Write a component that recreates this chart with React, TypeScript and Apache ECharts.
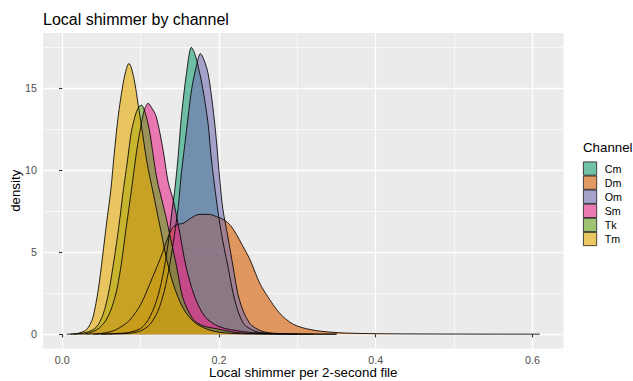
import React, { useEffect, useRef } from "react";
import * as echarts from "echarts";

// ---- data ----
const CHANNELS = ["Cm", "Dm", "Om", "Sm", "Tk", "Tm"];

const CM: [number, number][] = [
  [0.04, 0], [0.06, 0.02], [0.075, 0.06], [0.085, 0.1], [0.1, 0.35], [0.11, 0.9], [0.12, 2.0],
  [0.128, 3.5], [0.135, 5.5], [0.14, 7.5], [0.1436, 8.8], [0.1478, 10.8], [0.152, 13.25],
  [0.1585, 15.9], [0.1648, 17.48], [0.169, 17.1], [0.174, 16.2], [0.1796, 14.9], [0.186, 12.85],
  [0.19, 10.8], [0.1967, 8.18], [0.203, 6.15], [0.2115, 4.1], [0.22, 2.09], [0.231, 0.67],
  [0.245, 0.2], [0.26, 0.05], [0.3, 0],
];
const DM: [number, number][] = [
  [0.03, 0], [0.05, 0.05], [0.065, 0.2], [0.075, 0.45], [0.086, 0.85], [0.1, 1.8], [0.112, 3.1],
  [0.125, 4.6], [0.135, 5.9], [0.141, 6.5], [0.148, 6.7], [0.154, 6.75], [0.165, 7.1], [0.175, 7.3],
  [0.187, 7.3], [0.197, 7.16], [0.207, 6.95], [0.215, 6.6], [0.222, 6.1], [0.23, 5.4], [0.239, 4.6],
  [0.252, 3.1], [0.262, 2.3], [0.272, 1.6], [0.282, 1.05], [0.295, 0.6], [0.31, 0.35], [0.33, 0.18],
  [0.36, 0.07], [0.4, 0.03], [0.45, 0.015], [0.5, 0.008], [0.55, 0.004], [0.6094, 0],
];
const OM: [number, number][] = [
  [0.05, 0], [0.07, 0.02], [0.085, 0.05], [0.1, 0.2], [0.112, 0.6], [0.122, 1.4], [0.13, 2.6],
  [0.137, 4.2], [0.143, 6.0], [0.148, 7.77], [0.152, 9.8], [0.158, 12.2], [0.165, 14.9],
  [0.171, 16.3], [0.1763, 17.1], [0.181, 16.7], [0.186, 15.9], [0.192, 13.9], [0.1967, 11.8],
  [0.201, 9.4], [0.205, 7.6], [0.2115, 5.9], [0.218, 4.1], [0.226, 2.09], [0.239, 0.67],
  [0.256, 0.16], [0.28, 0.03], [0.32, 0],
];
const SM: [number, number][] = [
  [0.015, 0], [0.03, 0.03], [0.045, 0.3], [0.055, 0.8], [0.063, 1.6], [0.07, 2.8], [0.076, 4.5],
  [0.081, 6.3], [0.086, 8.0], [0.09, 9.4], [0.095, 11.2], [0.1, 12.6], [0.105, 13.7], [0.1096, 14.07],
  [0.114, 13.8], [0.12, 13.25], [0.1287, 11.2], [0.135, 9.3], [0.142, 8.1], [0.15, 6.15], [0.158, 4.1],
  [0.169, 2.29], [0.182, 1.07], [0.2, 0.46], [0.23, 0.16], [0.26, 0.05], [0.3, 0.01], [0.35, 0],
];
const TK: [number, number][] = [
  [0.01, 0], [0.015, 0.02], [0.03, 0.1], [0.043, 0.4], [0.052, 1.2], [0.059, 2.5], [0.066, 4.5],
  [0.072, 6.5], [0.078, 8.8], [0.083, 10.5], [0.088, 12.3], [0.093, 13.3], [0.097, 13.8], [0.101, 13.96],
  [0.107, 13.3], [0.112, 12.2], [0.116, 10.9], [0.121, 9.4], [0.127, 8.2], [0.133, 7.0], [0.137, 6.1],
  [0.146, 4.1], [0.154, 2.2], [0.167, 0.9], [0.18, 0.5], [0.197, 0.33], [0.222, 0.1], [0.25, 0.03],
  [0.3, 0.005], [0.35, 0],
];
const TM: [number, number][] = [
  [0.0056, 0], [0.012, 0.005], [0.018, 0.03], [0.025, 0.12], [0.031, 0.28], [0.0355, 0.6],
  [0.0395, 1.07], [0.0459, 2.7], [0.0514, 4.73], [0.0565, 6.76], [0.062, 8.8], [0.0659, 10.8],
  [0.0713, 13.25], [0.0777, 15.3], [0.082, 16.2], [0.085, 16.5], [0.088, 16.25], [0.0926, 15.3],
  [0.0968, 14.0], [0.101, 12.7], [0.108, 10.5], [0.116, 8.6], [0.125, 6.5], [0.133, 4.6], [0.142, 3.0],
  [0.154, 1.6], [0.168, 0.75], [0.185, 0.3], [0.2, 0.12], [0.22, 0.04], [0.25, 0.01], [0.28, 0],
];
const SERIES = [CM, DM, OM, SM, TK, TM];

const X_TICKS = [0, 0.2, 0.4, 0.6];
const X_MINOR = [0.1, 0.3, 0.5];
const Y_TICKS = [0, 5, 10, 15];
const Y_MINOR = [2.5, 7.5, 12.5, 17.5];

const TITLE = "Local shimmer by channel";
const X_TITLE = "Local shimmer per 2-second file";
const Y_TITLE = "density";
const LEGEND_TITLE = "Channel";

// ---- styling ----
const FILLS = ["#1B9E77", "#D95F02", "#7570B3", "#E7298A", "#66A61E", "#E6AB02"];
const ALPHA = 0.6;
const FONT = "'Liberation Sans', Arial, Helvetica, sans-serif";

function blend(hex: string, a: number, bg: number) {
  const n = parseInt(hex.slice(1), 16);
  const r = (n >> 16) & 255, g = (n >> 8) & 255, b = n & 255;
  const m = (c: number) => Math.round(c * a + bg * (1 - a));
  return `rgb(${m(r)},${m(g)},${m(b)})`;
}

export default function App() {
  const ref = useRef<HTMLDivElement>(null);
  useEffect(() => {
    if (!ref.current) return;
    const chart = echarts.init(ref.current, undefined, { renderer: "svg" });

    const allX = SERIES.flat().map((p) => p[0]);
    const allY = SERIES.flat().map((p) => p[1]);
    const x0 = Math.min(...allX), x1 = Math.max(...allX);
    const y0 = Math.min(0, ...allY), y1 = Math.max(...allY);
    const xmin = x0 - (x1 - x0) * 0.05, xmax = x1 + (x1 - x0) * 0.05;
    const ymin = y0 - (y1 - y0) * 0.05, ymax = y1 + (y1 - y0) * 0.05;

    const majorAxisX = {
      type: "value", min: xmin, max: xmax, position: "bottom",
      axisLine: { show: false },
      axisTick: { show: true, length: 3.3, customValues: X_TICKS, lineStyle: { color: "#333333", width: 1.1 } },
      axisLabel: {
        customValues: X_TICKS, formatter: (v: number) => v.toFixed(1), color: "#4D4D4D",
        fontSize: 10.7, fontFamily: FONT, margin: 6,
      },
      splitLine: { show: true, lineStyle: { color: "#FFFFFF", width: 1.3 } },
      name: X_TITLE, nameLocation: "middle", nameGap: 17, nameMoveOverlap: false,
      nameTextStyle: { fontSize: 13.3, color: "#000", fontFamily: FONT },
    };
    const minorAxisX = {
      type: "value", min: xmin, max: xmax, position: "top",
      axisLine: { show: false },
      axisTick: { show: false, customValues: X_MINOR },
      axisLabel: { show: false, customValues: X_MINOR },
      splitLine: { show: true, lineStyle: { color: "#FFFFFF", width: 0.65 } },
    };
    const majorAxisY = {
      type: "value", min: ymin, max: ymax, position: "left",
      axisLine: { show: false },
      axisTick: { show: true, length: 3.3, customValues: Y_TICKS, lineStyle: { color: "#333333", width: 1.1 } },
      axisLabel: {
        customValues: Y_TICKS, formatter: (v: number) => String(v), color: "#4D4D4D",
        fontSize: 10.7, fontFamily: FONT, margin: 6,
      },
      splitLine: { show: true, lineStyle: { color: "#FFFFFF", width: 1.3 } },
      name: Y_TITLE, nameLocation: "middle", nameGap: 21, nameRotate: 90, nameMoveOverlap: false,
      nameTextStyle: { fontSize: 13.3, color: "#000", fontFamily: FONT },
    };
    const minorAxisY = {
      type: "value", min: ymin, max: ymax, position: "right",
      axisLine: { show: false },
      axisTick: { show: false, customValues: Y_MINOR },
      axisLabel: { show: false, customValues: Y_MINOR },
      splitLine: { show: true, lineStyle: { color: "#FFFFFF", width: 0.65 } },
    };

    chart.setOption({
      animation: false,
      backgroundColor: "#FFFFFF",
      title: [
        {
          text: TITLE, left: 43, top: 11.5, padding: 0,
          textStyle: { fontSize: 16, fontWeight: "normal", color: "#000", fontFamily: FONT },
        },
        {
          text: LEGEND_TITLE, left: 583, top: 141, padding: 0,
          textStyle: { fontSize: 13.3, fontWeight: "normal", color: "#000", fontFamily: FONT },
        },
      ],
      grid: {
        left: 43, right: 69.5, top: 33, bottom: 32.5,
        show: true, backgroundColor: "#EBEBEB", borderWidth: 0, containLabel: false,
        outerBoundsMode: "none",
      },
      legend: {
        orient: "vertical", left: 583, top: 161.5, padding: 0,
        itemWidth: 13.3, itemHeight: 13.3, itemGap: 0, icon: "rect",
        textStyle: { fontSize: 10.7, color: "#000", fontFamily: FONT, padding: [0, 0, 0, 3] },
        data: CHANNELS.map((name, i) => ({
          name,
          icon: "rect",
          itemStyle: { color: blend(FILLS[i], ALPHA, 242), borderColor: "#1a1a1a", borderWidth: 0.8 },
        })),
      },
      xAxis: [majorAxisX, minorAxisX],
      yAxis: [majorAxisY, minorAxisY],
      series: CHANNELS.map((name, i) => ({
        name,
        type: "line",
        xAxisIndex: 0,
        yAxisIndex: 0,
        data: SERIES[i],
        smooth: 0.3,
        symbol: "none",
        showSymbol: false,
        lineStyle: { color: "#000000", width: 0.85 },
        itemStyle: { color: FILLS[i] },
        areaStyle: { color: FILLS[i], opacity: ALPHA },
        emphasis: { disabled: true },
      })),
    });
    return () => chart.dispose();
  }, []);

  return (
    <div
      ref={ref}
      style={{ position: "fixed", left: 0, top: 0, width: 633, height: 381 }}
    />
  );
}
